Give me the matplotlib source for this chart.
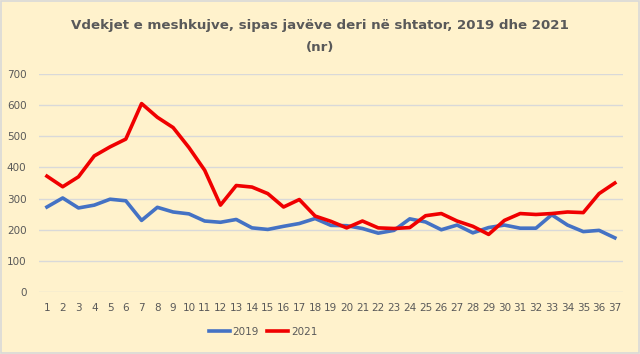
import matplotlib
matplotlib.use("Agg")
import matplotlib.pyplot as plt
from matplotlib.patches import Rectangle

weeks = list(range(1, 38))
deaths_2019 = [273, 302, 270, 279, 298, 293, 230, 272, 257, 251, 228, 224, 233, 206, 201,
               211, 220, 236, 214, 213, 204, 189, 198, 235, 225, 200, 215, 190, 207, 215,
               205, 205, 248, 215, 194, 198, 174]
deaths_2021 = [372, 338, 370, 437, 466, 491, 605, 561, 528, 464, 391, 279, 342, 337, 316,
               273, 297, 244, 227, 206, 228, 206, 204, 207, 245, 252, 228, 211, 185, 230,
               252, 249, 252, 257, 255, 316, 350]
yticks = [0, 100, 200, 300, 400, 500, 600, 700]

bg = "#FFF2CC"
txt = "#595959"
fig = plt.figure(figsize=(6.4, 3.54), dpi=100, facecolor=bg)
fig.patches.append(Rectangle((0.002, 0.003), 0.996, 0.994, transform=fig.transFigure,
                             fill=False, edgecolor="#D9D9D9", linewidth=1.2))
ax = fig.add_axes([0.061, 0.175, 0.912, 0.616])
ax.set_facecolor(bg)
ax.plot(weeks, deaths_2019, color="#4472C4", lw=2.6, label="2019", solid_joinstyle="round")
ax.plot(weeks, deaths_2021, color="#F00000", lw=2.6, label="2021", solid_joinstyle="round")
ax.set_xlim(0.5, 37.5)
ax.set_ylim(0, 700)
ax.set_yticks(yticks)
ax.set_xticks(weeks)
ax.set_xticklabels([str(w) for w in weeks])
ax.grid(axis="y", color="#D9D9D9", lw=1)
ax.set_axisbelow(True)
for s in ax.spines.values():
    s.set_visible(False)
ax.tick_params(axis="both", length=0, colors=txt, labelsize=7.5)
ax.tick_params(axis="y", pad=9)
ax.tick_params(axis="x", pad=8)
fig.text(0.5, 0.929, "Vdekjet e meshkujve, sipas javëve deri në shtator, 2019 dhe 2021",
         ha="center", va="center", fontsize=9.6, fontweight="bold", color=txt)
fig.text(0.5, 0.867, "(nr)", ha="center", va="center", fontsize=9.6, fontweight="bold", color=txt)
leg = ax.legend(loc="center", bbox_to_anchor=(0.384, -0.183), ncol=2, frameon=False,
                fontsize=7.5, handlelength=2.0, handletextpad=0.3, columnspacing=0.8,
                labelcolor=txt)
fig.savefig("out.png", dpi=100, facecolor=bg)
